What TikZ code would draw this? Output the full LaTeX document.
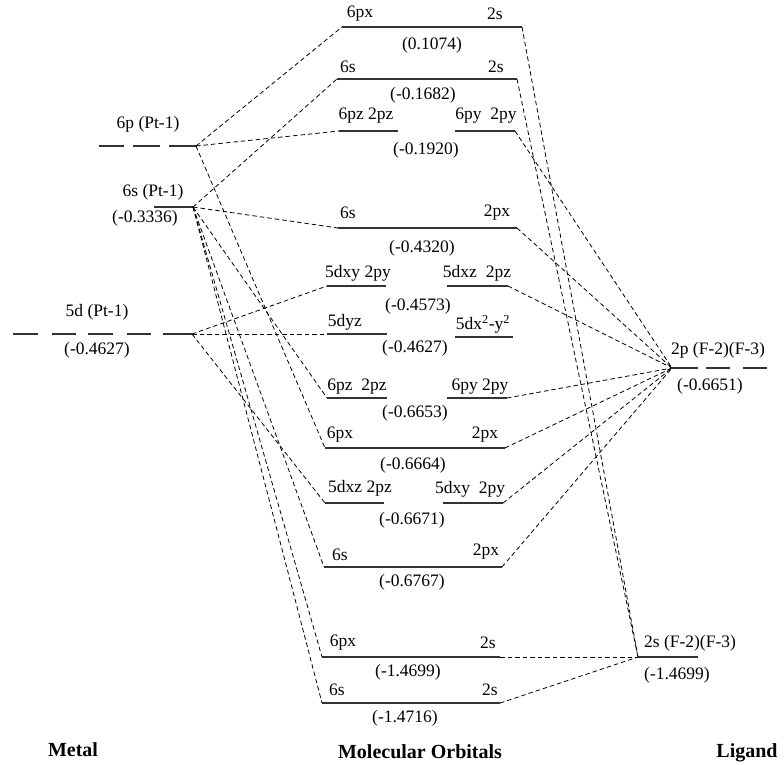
\documentclass[tikz,border=0pt]{standalone}
\usepackage{fontspec}
\setmainfont{Liberation Serif}
\begin{document}
\begin{tikzpicture}[x=1pt,y=-1pt,font=\fontsize{17.5}{20}\selectfont,
        lvl/.style={line width=1.3pt,black!80},
        conn/.style={dash pattern=on 4.5pt off 3pt,line width=0.8pt},
        ttl/.style={font=\bfseries\fontsize{20}{24}\selectfont}]
    \useasboundingbox (0,0) rectangle (784,764);

    % metal levels
    \coordinate (pt6p) at (196,146);
    \coordinate (pt6s) at (193,207);
    \coordinate (pt5d) at (192,334);
    \draw[lvl] (99,146) -- (124,146) (133,146) -- (160,146) (169,146) -- (pt6p);
    \draw[lvl] (154,207) -- (pt6s);
    \draw[lvl] (13,334) -- (38,334) (52,334) -- (76,334) (88,334) -- (113,334) (127,334) -- (151,334) (163,334) -- (pt5d);
    \node (pt6ptxt) at (148,124) {6p (Pt-1)};
    \node (pt6stxt) at (153,192) {6s (Pt-1)};
    \node (pt6sval) at (145,218) {(-0.3336)};
    \node (pt5dtxt) at (97,312) {5d (Pt-1)};
    \node (pt5dval) at (97,350) {(-0.4627)};

    % molecular orbitals
    \coordinate (mo1l) at (342,27);   \coordinate (mo1r) at (522,27);
    \coordinate (mo2l) at (337,79);   \coordinate (mo2r) at (517,79);
    \coordinate (mo3al) at (339,131); \coordinate (mo3ar) at (398,131);
    \coordinate (mo3bl) at (455,131); \coordinate (mo3br) at (515,131);
    \coordinate (mo4l) at (338,228);  \coordinate (mo4r) at (517,228);
    \coordinate (mo5al) at (327,286); \coordinate (mo5ar) at (386,286);
    \coordinate (mo5bl) at (447,286); \coordinate (mo5br) at (508,286);
    \coordinate (mo6al) at (327,334); \coordinate (mo6ar) at (387,334);
    \coordinate (mo6bl) at (455,337); \coordinate (mo6br) at (513,337);
    \coordinate (mo7al) at (327,398); \coordinate (mo7ar) at (387,398);
    \coordinate (mo7bl) at (447,398); \coordinate (mo7br) at (507,398);
    \coordinate (mo8l) at (325,448);  \coordinate (mo8r) at (505,448);
    \coordinate (mo9al) at (325,503); \coordinate (mo9ar) at (384,503);
    \coordinate (mo9bl) at (443,503); \coordinate (mo9br) at (503,503);
    \coordinate (mo10l) at (324,567); \coordinate (mo10r) at (502,567);
    \coordinate (mo11l) at (322,657); \coordinate (mo11r) at (500,657);
    \coordinate (mo12l) at (322,703); \coordinate (mo12r) at (500,703);
    \draw[lvl] (mo1l) -- (mo1r) (mo2l) -- (mo2r) (mo3al) -- (mo3ar) (mo3bl) -- (mo3br)
        (mo4l) -- (mo4r) (mo5al) -- (mo5ar) (mo5bl) -- (mo5br) (mo6al) -- (mo6ar)
        (mo6bl) -- (mo6br) (mo7al) -- (mo7ar) (mo7bl) -- (mo7br) (mo8l) -- (mo8r)
        (mo9al) -- (mo9ar) (mo9bl) -- (mo9br) (mo10l) -- (mo10r) (mo11l) -- (mo11r)
        (mo12l) -- (mo12r);

    \node (mo1a) at (360,14) {6px};
    \node (mo1b) at (495,14) {2s};
    \node (mo1v) at (432,45) {(0.1074)};
    \node (mo2a) at (348,67) {6s};
    \node (mo2b) at (496,67) {2s};
    \node (mo2v) at (423,95) {(-0.1682)};
    \node (mo3a) at (366,116) {6pz 2pz};
    \node (mo3b) at (486,116) {6py\ \ 2py};
    \node (mo3v) at (426,150) {(-0.1920)};
    \node (mo4a) at (348,213) {6s};
    \node (mo4b) at (497,213) {2px};
    \node (mo4v) at (422,248) {(-0.4320)};
    \node (mo5a) at (358,273) {5dxy 2py};
    \node (mo5b) at (477,273) {5dxz\ \ 2pz};
    \node (mo5v) at (418,306) {(-0.4573)};
    \node (mo6a) at (345,322) {5dyz};
    \node (mo6b) at (483,324) {5dx\textsuperscript{2}-y\textsuperscript{2}};
    \node (mo6v) at (415,348) {(-0.4627)};
    \node (mo7a) at (357,387) {6pz\ \ 2pz};
    \node (mo7b) at (480,387) {6py 2py};
    \node (mo7v) at (415,413) {(-0.6653)};
    \node (mo8a) at (340,435) {6px};
    \node (mo8b) at (485,435) {2px};
    \node (mo8v) at (413,465) {(-0.6664)};
    \node (mo9a) at (360,488) {5dxz 2pz};
    \node (mo9b) at (470,489) {5dxy\ \ 2py};
    \node (mo9v) at (412,520) {(-0.6671)};
    \node (mo10a) at (340,555) {6s};
    \node (mo10b) at (486,552) {2px};
    \node (mo10v) at (412,582) {(-0.6767)};
    \node (mo11a) at (343,643) {6px};
    \node (mo11b) at (488,643) {2s};
    \node (mo11v) at (408,672) {(-1.4699)};
    \node (mo12a) at (337,690) {6s};
    \node (mo12b) at (490,690) {2s};
    \node (mo12v) at (405,718) {(-1.4716)};

    % ligand levels
    \coordinate (f2p) at (672,368);
    \coordinate (f2s) at (638,657);
    \draw[lvl] (f2p) -- (698,368) (706,368) -- (730,368) (743,368) -- (767,368);
    \draw[lvl] (f2s) -- (698,657);
    \node (f2ptxt) at (718,350) {2p (F-2)(F-3)};
    \node (f2pval) at (710,386) {(-0.6651)};
    \node (f2stxt) at (690,643) {2s (F-2)(F-3)};
    \node (f2sval) at (677,675) {(-1.4699)};

    \draw[conn] (pt6p) -- (mo1l);
    \draw[conn] (pt6p) -- (mo3al);
    \draw[conn] (pt6p) -- (mo8l);
    \draw[conn] (pt6s) -- (mo2l);
    \draw[conn] (pt6s) -- (mo4l);
    \draw[conn] (pt6s) -- (mo7al);
    \draw[conn] (pt6s) -- (mo10l);
    \draw[conn] (pt6s) -- (mo11l);
    \draw[conn] (pt6s) -- (mo12l);
    \draw[conn] (pt5d) -- (mo5al);
    \draw[conn] (pt5d) -- (mo6al);
    \draw[conn] (pt5d) -- (mo9al);

    \draw[conn] (mo3br) -- (f2p);
    \draw[conn] (mo4r) -- (f2p);
    \draw[conn] (mo5br) -- (f2p);
    \draw[conn] (mo7br) -- (f2p);
    \draw[conn] (mo8r) -- (f2p);
    \draw[conn] (mo9br) -- (f2p);
    \draw[conn] (mo10r) -- (f2p);
    \draw[conn] (mo1r) -- (f2s);
    \draw[conn] (mo2r) -- (f2s);
    \draw[conn] (mo11r) -- (f2s);
    \draw[conn] (mo12r) -- (f2s);

    \node (metal) [ttl] at (73,750) {Metal};
    \node (motitle) [ttl] at (420,752) {Molecular Orbitals};
    \node (ligand) [ttl] at (747,753) {Ligand};
\end{tikzpicture}
\end{document}
